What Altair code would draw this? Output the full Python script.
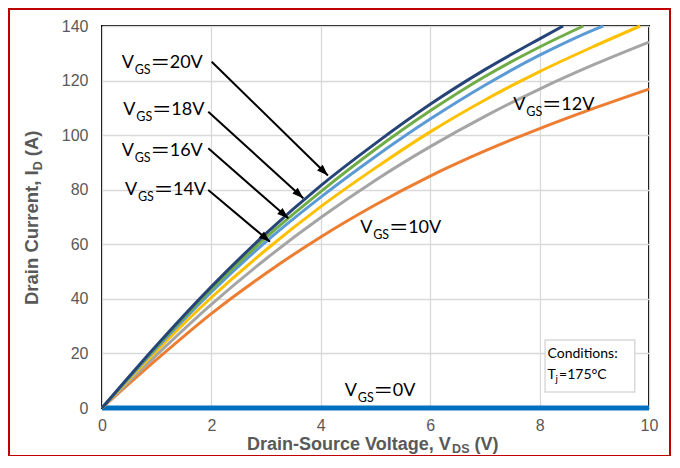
import math
import altair as alt
import pandas as pd

# ---------------- data ----------------
VDS_20V = [0, 1, 2, 3, 4, 5, 6, 7, 8, 8.43]
ID_20V = [0, 23, 44.5, 64, 81.5, 97, 111.3, 124, 135.3, 140]

VDS_18V = [0, 1, 2, 3, 4, 5, 6, 7, 8, 8.8]
ID_18V = [0, 22.5, 43.5, 62.5, 79.3, 94.8, 108.9, 121.5, 132.3, 140]

VDS_16V = [0, 1, 2, 3, 4, 5, 6, 7, 8, 9, 9.16]
ID_16V = [0, 22, 42.5, 61, 77.3, 92.2, 105.9, 118.3, 129.3, 138.7, 140]

VDS_14V = [0, 1, 2, 3, 4, 5, 6, 7, 8, 9, 9.84]
ID_14V = [0, 21, 40.5, 58, 73.8, 88, 101.2, 112.9, 123.3, 132.6, 140]

VDS_12V = [0, 1, 2, 3, 4, 5, 6, 7, 8, 9, 10]
ID_12V = [0, 19.5, 38, 54.7, 69.8, 83.5, 95.8, 106.9, 116.9, 125.9, 134.1]

VDS_10V = [0, 1, 2, 3, 4, 5, 6, 7, 8, 9, 10]
ID_10V = [0, 17.8, 34.6, 49.4, 62.7, 74.5, 85.0, 94.2, 102.4, 109.9, 116.9]

VDS_0V = [0, 1, 2, 3, 4, 5, 6, 7, 8, 9, 10]
ID_0V = [0, 0, 0, 0, 0, 0, 0, 0, 0, 0, 0]

SERIES = ["0V", "10V", "12V", "14V", "16V", "18V", "20V"]
SERIES_X = [VDS_0V, VDS_10V, VDS_12V, VDS_14V, VDS_16V, VDS_18V, VDS_20V]
SERIES_Y = [ID_0V, ID_10V, ID_12V, ID_14V, ID_16V, ID_18V, ID_20V]

X_TICKS = [0, 2, 4, 6, 8, 10]
Y_TICKS = [0, 20, 40, 60, 80, 100, 120, 140]

# curve labels (V_GS = ...), anchor in data units (left edge, baseline)
LABEL_VALUES = ["20V", "18V", "16V", "14V", "12V", "10V", "0V"]
LABEL_X = [0.36, 0.39, 0.36, 0.42, 7.52, 4.72, 4.44]
LABEL_Y = [124.5, 107.4, 92.4, 78.1, 109.2, 64.0, 4.3]

# arrows: start -> tip, data units
ARROW_X1 = [2.005, 1.943, 1.943, 1.943]
ARROW_Y1 = [126.9, 108.6, 95.2, 79.9]
ARROW_X2 = [4.13, 3.68, 3.406, 3.071]
ARROW_Y2 = [85.2, 76.9, 69.5, 60.9]

# conditions box
BOX_X = [8.10]
BOX_X2 = [9.74]
BOX_Y = [5.9]
BOX_Y2 = [24.9]

# ---------------- styles / layout ----------------
COLORS = {"0V": "#0070C0", "10V": "#ED7D31", "12V": "#A5A5A5", "14V": "#FFC000",
          "16V": "#5B9BD5", "18V": "#70AD47", "20V": "#264478"}
WIDTHS = {"0V": 5, "10V": 3, "12V": 3, "14V": 3, "16V": 3, "18V": 3, "20V": 3}

W, H = 547, 382
XMAX, YMAX = 10, 140
SX, SY = W / XMAX, H / YMAX

AXIS_GRAY = "#595959"
AX_FONT = "Liberation Sans"
LBL_FONT = "Lato"
CJK_FONT = "Noto Sans CJK SC"

xs = alt.Scale(domain=[0, XMAX], nice=False, zero=False)
ys = alt.Scale(domain=[0, YMAX], nice=False, zero=False)
xaxis = alt.Axis(values=X_TICKS, title=None, grid=True, domain=False, ticks=False,
                 tickSize=0, labelPadding=9, labelFont=AX_FONT, labelFontSize=16,
                 labelColor=AXIS_GRAY, gridColor="#D9D9D9", gridWidth=1.3,
                 labelFlush=False, labelOverlap=False)
yaxis = alt.Axis(values=Y_TICKS, title=None, grid=True, domain=False, ticks=False,
                 tickSize=0, labelPadding=14, labelFont=AX_FONT, labelFontSize=16,
                 labelColor=AXIS_GRAY, gridColor="#D9D9D9", gridWidth=1.3,
                 labelFlush=False, labelOverlap=False)
X = alt.X("x:Q", scale=xs, axis=xaxis)
Y = alt.Y("y:Q", scale=ys, axis=yaxis)

layers = []

# curves
for name, xv, yv in zip(SERIES, SERIES_X, SERIES_Y):
    df = pd.DataFrame({"x": xv, "y": yv})
    layers.append(
        alt.Chart(df).mark_line(color=COLORS[name], strokeWidth=WIDTHS[name],
                                interpolate="monotone").encode(x=X, y=Y)
    )

# arrows
arr = pd.DataFrame({"x": ARROW_X1, "y": ARROW_Y1, "x2": ARROW_X2, "y2": ARROW_Y2})
arr["ang"] = [
    (math.degrees(math.atan2((b - a) * SX, (d - c) * SY)) + 360) % 360
    for a, b, c, d in zip(arr["x"], arr["x2"], arr["y"], arr["y2"])
]
layers.append(
    alt.Chart(arr).mark_rule(color="black", strokeWidth=2).encode(
        x=X, y=Y, x2=alt.X2("x2"), y2=alt.Y2("y2"))
)
heads = pd.DataFrame({"x": ARROW_X2, "y": ARROW_Y2, "ang": arr["ang"]})
layers.append(
    alt.Chart(heads).mark_point(shape="M0,0 L-0.36,1 L0.36,1 Z", filled=True,
                                fill="black", size=500, strokeWidth=0, opacity=1).encode(
        x=X, y=Y, angle=alt.Angle("ang:Q", scale=None))
)

# curve labels: V + subscript GS + long equals + value
lab = pd.DataFrame({"x": LABEL_X, "y": LABEL_Y, "val": LABEL_VALUES})
lab["v"] = "V"
lab["gs"] = "GS"
lab["eq"] = "＝"
common = dict(align="left", baseline="alphabetic", color="#000000")
layers.append(alt.Chart(lab).mark_text(font=LBL_FONT, fontSize=18, **common)
              .encode(x=X, y=Y, text="v:N"))
layers.append(alt.Chart(lab).mark_text(font=LBL_FONT, fontSize=12.5, dx=13, dy=6, **common)
              .encode(x=X, y=Y, text="gs:N"))
layers.append(alt.Chart(lab).mark_text(font=CJK_FONT, fontSize=20, dx=28.5, dy=2, **common)
              .encode(x=X, y=Y, text="eq:N"))
layers.append(alt.Chart(lab).mark_text(font=LBL_FONT, fontSize=18, dx=48, **common)
              .encode(x=X, y=Y, text="val:N"))

# conditions box
box = pd.DataFrame({"x": BOX_X, "x2": BOX_X2, "y": BOX_Y, "y2": BOX_Y2})
layers.append(
    alt.Chart(box).mark_rect(fill="white", stroke="#D9D9D9", strokeWidth=1.5).encode(
        x=X, x2=alt.X2("x2"), y=Y, y2=alt.Y2("y2"))
)
cond = pd.DataFrame({"x": [8.145, 8.145], "y": [18.2, 10.5], "t": ["Conditions:", "T"]})
layers.append(alt.Chart(cond).mark_text(font=LBL_FONT, fontSize=14, **common)
              .encode(x=X, y=Y, text="t:N"))
cond2 = pd.DataFrame({"x": [8.145], "y": [10.5], "j": ["j"], "rest": ["=175°C"]})
layers.append(alt.Chart(cond2).mark_text(font=LBL_FONT, fontSize=10, dx=8, dy=3, **common)
              .encode(x=X, y=Y, text="j:N"))
layers.append(alt.Chart(cond2).mark_text(font=LBL_FONT, fontSize=14, dx=11.5, **common)
              .encode(x=X, y=Y, text="rest:N"))

# axis titles with subscripts (pixel placement relative to plot area)
TS, SS = 18, 12.5
title_style = dict(font=AX_FONT, fontWeight="bold", color=AXIS_GRAY, align="left",
                   baseline="alphabetic")
one = pd.DataFrame({"a": [0]})
xt_x, xt_y = 145, 424
for txt, size, dx, dy in [("Drain-Source Voltage, V", TS, 0, 0), ("DS", SS, 205.1, 3),
                          ("(V)", TS, 227.5, 0)]:
    layers.append(alt.Chart(one).mark_text(text=txt, fontSize=size, dx=dx, dy=dy,
                                           **title_style)
                  .encode(x=alt.value(xt_x), y=alt.value(xt_y)))
TSY = 18.5
yt_x, yt_y = -63.7, 279
for txt, size, dx, dy in [("Drain Current, I", TSY, 0, 0), ("D", SS, 134.7, 4),
                          ("(A)", TSY, 148.8, 0)]:
    layers.append(alt.Chart(one).mark_text(text=txt, fontSize=size, dx=dx, dy=dy, angle=270,
                                           **title_style)
                  .encode(x=alt.value(yt_x), y=alt.value(yt_y)))

# outer red frame
layers.append(
    alt.Chart(one).mark_rect(fillOpacity=0, stroke="#C00000", strokeWidth=2).encode(
        x=alt.value(-93), x2=alt.value(568), y=alt.value(-17), y2=alt.value(430))
)

chart = (
    alt.layer(*layers)
    .properties(width=W, height=H,
                padding={"left": 94, "top": 18, "right": 22, "bottom": 48},
                autosize=alt.AutoSizeParams(type="none"),
                background="white")
    .configure_view(stroke="#000000", strokeWidth=2)
)

chart.save("out.html", embed_options={"renderer": "svg", "actions": False})
